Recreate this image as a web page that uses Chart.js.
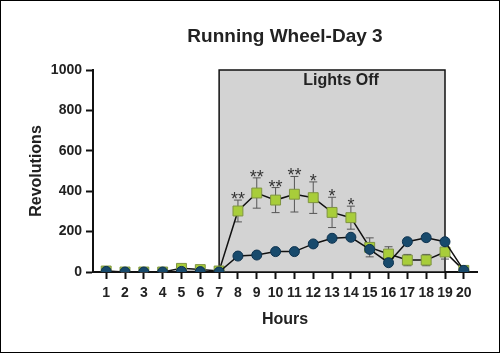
<!DOCTYPE html>
<html>
<head>
<meta charset="utf-8">
<script src="https://cdn.jsdelivr.net/npm/chart.js@4/dist/chart.umd.min.js"></script>
<style>
  html, body { margin: 0; padding: 0; background: #fff; }
  #wrap { width: 500px; height: 353px; }
</style>
</head>
<body>
<div id="wrap"><canvas id="wheel-chart" width="500" height="353"></canvas></div>
<script>
// Running wheel revolutions per hour, day 3
const hours = [1, 2, 3, 4, 5, 6, 7, 8, 9, 10, 11, 12, 13, 14, 15, 16, 17, 18, 19, 20];
const greenValues = [5, 0, 0, 0, 18, 12, 5, 302, 391, 356, 385, 368, 295, 269, 122, 89, 59, 59, 99, 8];
const greenErrors = [3, 2, 2, 2, 6, 5, 3, 54, 75, 62, 88, 78, 75, 57, 47, 36, 28, 28, 35, 3];
const blueValues = [3, 0, 0, 0, 3, 2, 0, 79, 84, 101, 101, 139, 167, 172, 112, 46, 150, 170, 150, 8];
const stars = ['', '', '', '', '', '', '', '**', '**', '**', '**', '*', '*', '*', '', '', '', '', '', ''];
const yTicks = [0, 200, 400, 600, 800, 1000];
const lightsOff = [7, 19];

const FONT = '"Liberation Sans"';

document.addEventListener('DOMContentLoaded', function() {
    const canvas = document.getElementById('wheel-chart');

    // gray "Lights Off" box and error bars, drawn under the lines
    const backdropPlugin = {
        id: 'backdrop',
        beforeDatasetsDraw(chart) {
            const ctx = chart.ctx;
            const x = chart.scales.x, y = chart.scales.y;
            const x0 = x.getPixelForValue(lightsOff[0]);
            const x1 = x.getPixelForValue(lightsOff[1]);
            const top = y.getPixelForValue(1000);
            const bottom = y.getPixelForValue(0);
            ctx.save();
            ctx.fillStyle = '#d3d3d3';
            ctx.fillRect(x0, top, x1 - x0, bottom - top);
            ctx.strokeStyle = '#111';
            ctx.lineWidth = 1.5;
            ctx.strokeRect(x0, top, x1 - x0, bottom - top);
            ctx.fillStyle = '#222';
            ctx.font = 'bold 16px ' + FONT;
            ctx.textAlign = 'center';
            ctx.textBaseline = 'alphabetic';
            ctx.fillText('Lights Off', (x0 + x1) / 2 + 9, top + 15);

            // error bars for green series
            ctx.strokeStyle = '#555';
            ctx.lineWidth = 1;
            hours.forEach(function(h, i) {
                const px = x.getPixelForValue(h);
                const hi = y.getPixelForValue(greenValues[i] + greenErrors[i]);
                const lo = y.getPixelForValue(Math.max(greenValues[i] - greenErrors[i], 0));
                ctx.beginPath();
                ctx.moveTo(px, hi); ctx.lineTo(px, lo);
                ctx.moveTo(px - 4, hi); ctx.lineTo(px + 4, hi);
                ctx.moveTo(px - 4, lo); ctx.lineTo(px + 4, lo);
                ctx.stroke();
            });
            ctx.restore();
        },
        afterDatasetsDraw(chart) {
            const ctx = chart.ctx;
            const x = chart.scales.x, y = chart.scales.y;
            ctx.save();
            ctx.fillStyle = '#333';
            ctx.font = '18px ' + FONT;
            ctx.textAlign = 'center';
            ctx.textBaseline = 'alphabetic';
            hours.forEach(function(h, i) {
                if (!stars[i]) return;
                const px = x.getPixelForValue(h);
                const hi = y.getPixelForValue(greenValues[i] + greenErrors[i]);
                ctx.fillText(stars[i], px, hi + 5);
            });
            ctx.restore();
        },
        afterDraw(chart) {
            const ctx = chart.ctx;
            const area = chart.chartArea;
            ctx.save();
            ctx.fillStyle = '#222';
            ctx.font = 'bold 19px ' + FONT;
            ctx.textAlign = 'center';
            ctx.textBaseline = 'alphabetic';
            ctx.fillText('Running Wheel-Day 3', (area.left + area.right) / 2, 42);
            ctx.strokeStyle = '#000';
            ctx.lineWidth = 1;
            ctx.strokeRect(0.5, 0.5, chart.width - 1, chart.height - 1);
            ctx.restore();
        }
    };

    const data = {
        datasets: [
            {
                label: 'Green',
                data: hours.map((h, i) => ({ x: h, y: greenValues[i] })),
                borderColor: '#111',
                borderWidth: 1.5,
                pointStyle: 'rect',
                pointRadius: 7,
                pointBackgroundColor: '#a8cd3a',
                pointBorderColor: '#7f9440',
                pointBorderWidth: 1,
                tension: 0,
                order: 2
            },
            {
                label: 'Blue',
                data: hours.map((h, i) => ({ x: h, y: blueValues[i] })),
                borderColor: '#111',
                borderWidth: 1.5,
                pointStyle: 'circle',
                pointRadius: 5,
                pointBackgroundColor: '#184a6c',
                pointBorderColor: '#0e3350',
                pointBorderWidth: 1,
                tension: 0,
                order: 1
            }
        ]
    };

    const options = {
        responsive: false,
        animation: false,
        layout: { padding: { top: 70, right: 23, left: 0, bottom: 0 } },
        plugins: {
            legend: { display: false },
            tooltip: { enabled: false }
        },
        scales: {
            x: {
                type: 'linear',
                min: 0.3,
                max: 20.7,
                afterBuildTicks: function(scale) {
                    scale.ticks = hours.map(v => ({ value: v }));
                },
                afterFit: function(scale) { scale.height = 81; },
                grid: { drawOnChartArea: false, tickLength: 7, tickWidth: 2, tickColor: '#111' },
                border: { color: '#111', width: 2 },
                ticks: {
                    color: '#222',
                    padding: 6,
                    autoSkip: false,
                    maxRotation: 0,
                    font: { family: FONT, size: 14, weight: 'bold' }
                },
                title: {
                    display: true,
                    text: 'Hours',
                    color: '#222',
                    padding: { top: 0, bottom: 24 },
                    font: { family: FONT, size: 16, weight: 'bold' }
                }
            },
            y: {
                min: 0,
                max: 1000,
                afterBuildTicks: function(scale) {
                    scale.ticks = yTicks.map(v => ({ value: v }));
                },
                afterFit: function(scale) { scale.width = 93; },
                grid: { drawOnChartArea: false, tickLength: 7, tickWidth: 2, tickColor: '#111' },
                border: { color: '#111', width: 2 },
                ticks: {
                    color: '#222',
                    padding: 4,
                    callback: function(v) { return String(v); },
                    font: { family: FONT, size: 14, weight: 'bold' }
                },
                title: {
                    display: true,
                    text: 'Revolutions',
                    color: '#222',
                    padding: { top: 27, bottom: 0 },
                    font: { family: FONT, size: 16, weight: 'bold' }
                }
            }
        }
    };

    new Chart(canvas, {
        type: 'line',
        data: data,
        options: options,
        plugins: [backdropPlugin]
    });
});
</script>
</body>
</html>
